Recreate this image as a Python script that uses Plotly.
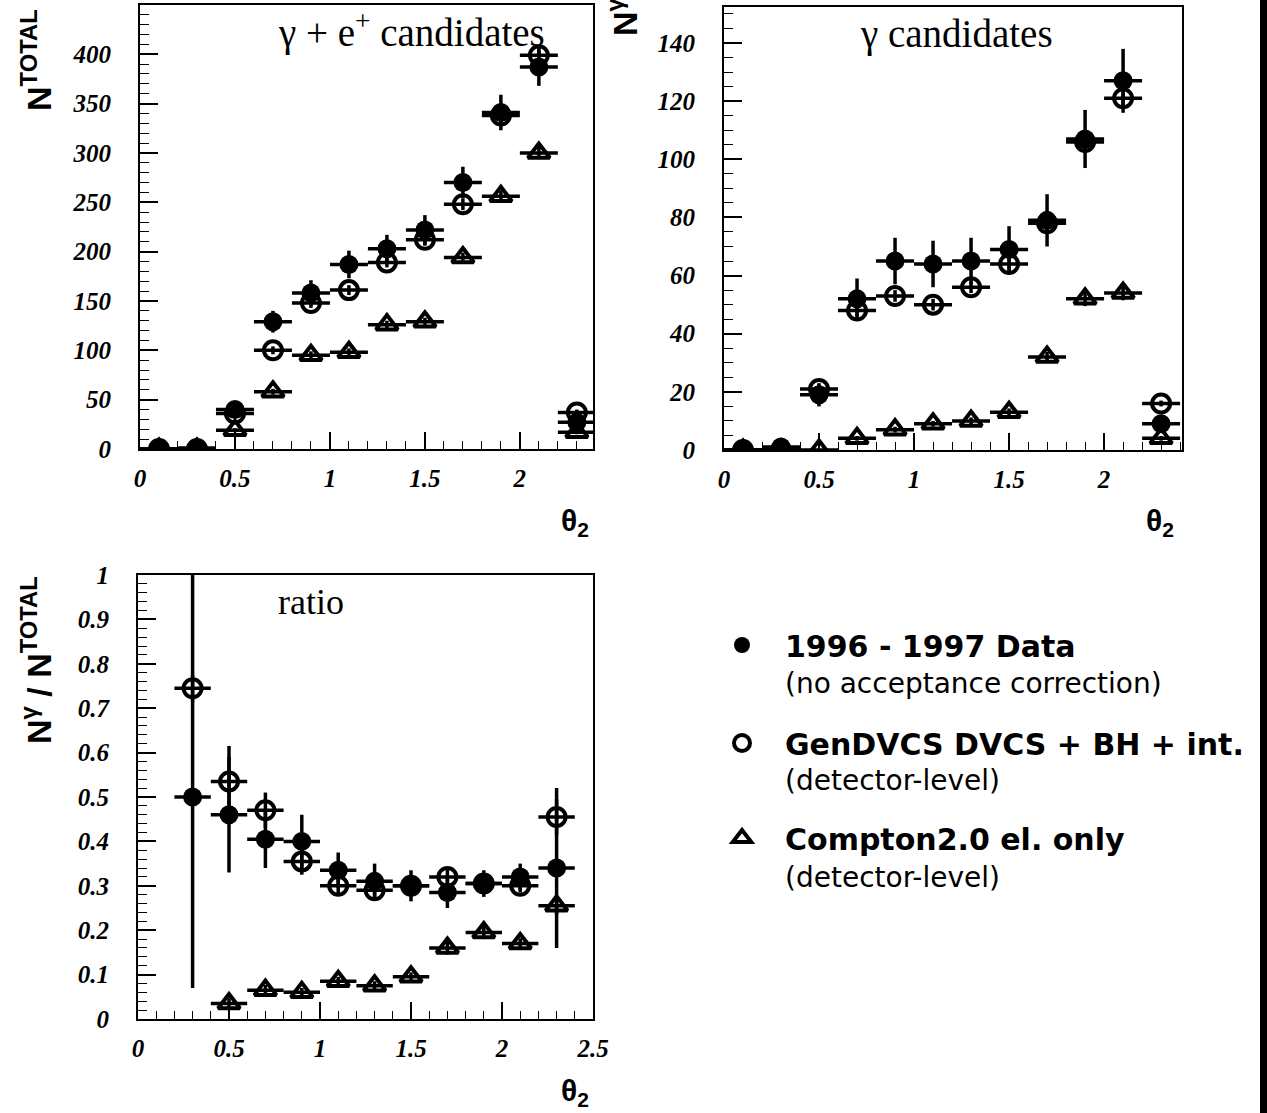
import plotly.graph_objects as go

W, H = 1267, 1113

# ---------------- data ----------------
theta_bins = [0.1, 0.3, 0.5, 0.7, 0.9, 1.1, 1.3, 1.5, 1.7, 1.9, 2.1, 2.3]
half_bin = [0.1] * 12

# N^TOTAL  (gamma + e+ candidates)
data_tot = [0, 1, 40, 129, 158, 187, 203, 222, 270, 341, 387, 27]
data_tot_err = [0, 1, 6, 11, 13, 14, 14, 15, 16, 18, 19, 5]
gen_tot = [0, 0, 36, 100, 148, 161, 189, 212, 248, 338, 399, 37]
gen_tot_err = [0, 0, 3, 4, 5, 5, 5, 6, 6, 7, 8, 3]
comp_tot = [0, 0, 19, 58, 95, 98, 126, 129, 194, 256, 300, 17]
comp_tot_err = [0, 0, 2, 3, 4, 4, 4, 4, 5, 6, 6, 2]

# N^gamma  (gamma candidates)
data_g = [0, 1, 19, 52, 65, 64, 65, 69, 79, 107, 127, 9]
data_g_err = [0, 1, 4, 7, 8, 8, 8, 8, 9, 10, 11, 3]
gen_g = [0, 0, 21, 48, 53, 50, 56, 64, 78, 106, 121, 16]
gen_g_err = [0, 0, 1.5, 2, 2, 2, 2, 2.5, 3, 3, 3.5, 1]
comp_g = [0, 0, 0, 4, 7, 9, 10, 13, 32, 52, 54, 4]
comp_g_err = [0, 0, 0, 0.8, 1, 1, 1.2, 1.3, 1.8, 2.5, 2.5, 0.8]

# ratio N^gamma / N^TOTAL
ratio_bins = [0.3, 0.5, 0.7, 0.9, 1.1, 1.3, 1.5, 1.7, 1.9, 2.1, 2.3]
ratio_half = [0.1] * 11
data_r = [0.50, 0.46, 0.405, 0.40, 0.335, 0.31, 0.30, 0.285, 0.305, 0.32, 0.34]
data_r_up = [0.6, 0.13, 0.065, 0.06, 0.04, 0.04, 0.035, 0.035, 0.03, 0.03, 0.18]
data_r_dn = [0.43, 0.13, 0.065, 0.06, 0.04, 0.04, 0.035, 0.035, 0.03, 0.03, 0.18]
gen_r = [0.745, 0.535, 0.47, 0.355, 0.30, 0.29, 0.30, 0.32, 0.305, 0.30, 0.455]
gen_r_err = [0.03, 0.08, 0.04, 0.03, 0.02, 0.02, 0.02, 0.02, 0.015, 0.015, 0.04]
comp_r = [None, 0.035, 0.065, 0.06, 0.085, 0.075, 0.095, 0.16, 0.195, 0.17, 0.255]
comp_r_err = [0, 0.012, 0.012, 0.01, 0.01, 0.01, 0.01, 0.015, 0.015, 0.012, 0.02]

legend_names = ["<b>1996 - 1997 Data</b>",
                "<b>GenDVCS DVCS + BH + int.</b>",
                "<b>Compton2.0 el. only</b>"]
legend_sub = ["(no acceptance correction)", "(detector-level)", "(detector-level)"]

# ---------------- styles ----------------
SANS = "DejaVu Sans, Liberation Sans, Arial, sans-serif"
SANS2 = "Liberation Sans, Arial, sans-serif"
SERIF = "Liberation Serif, Times New Roman, serif"
EB = 3.5

fig = go.Figure()


def err(arr, minus=None):
    d = dict(type="data", array=arr, color="black", thickness=EB, width=0, visible=True)
    if minus is not None:
        d["symmetric"] = False
        d["arrayminus"] = minus
    return d


def add_series(x, xerr, y, yerr, kind, xa, ya, show, yerr_minus=None):
    if kind == 0:
        marker = dict(symbol="circle", size=19, color="black")
        name, lg = legend_names[0], "legend"
    elif kind == 1:
        marker = dict(symbol="circle-open", size=18, color="black", line=dict(width=4, color="black"))
        name, lg = legend_names[1], "legend2"
    else:
        marker = dict(symbol="triangle-up-open", size=19, color="black", line=dict(width=4, color="black"))
        name, lg = legend_names[2], "legend3"
    fig.add_trace(go.Scatter(
        x=x, y=y, mode="markers", marker=marker, name=name,
        error_x=err(xerr), error_y=err(yerr, yerr_minus),
        xaxis=xa, yaxis=ya, showlegend=show, legend=lg))


# top-left
add_series(theta_bins, half_bin, comp_tot, comp_tot_err, 2, "x", "y", True)
add_series(theta_bins, half_bin, gen_tot, gen_tot_err, 1, "x", "y", True)
add_series(theta_bins, half_bin, data_tot, data_tot_err, 0, "x", "y", True)
# top-right
add_series(theta_bins, half_bin, comp_g, comp_g_err, 2, "x2", "y2", False)
add_series(theta_bins, half_bin, gen_g, gen_g_err, 1, "x2", "y2", False)
add_series(theta_bins, half_bin, data_g, data_g_err, 0, "x2", "y2", False)
# bottom
add_series(ratio_bins, ratio_half, comp_r, comp_r_err, 2, "x3", "y3", False)
add_series(ratio_bins, ratio_half, gen_r, gen_r_err, 1, "x3", "y3", False)
add_series(ratio_bins, ratio_half, data_r, data_r_up, 0, "x3", "y3", False, yerr_minus=data_r_dn)

tickfont = dict(family=SERIF, size=25, color="black", weight="bold", style="italic")


def xaxis(domain, rng, anchor):
    return dict(domain=domain, range=rng, anchor=anchor, showgrid=False, zeroline=False,
                showline=True, linecolor="black", linewidth=2, mirror=True, automargin=False,
                ticks="inside", ticklen=17, tickwidth=1.5, tickcolor="black",
                tick0=0, dtick=0.5, tickfont=tickfont, ticklabelstandoff=6,
                minor=dict(ticks="inside", ticklen=8, tickwidth=1.2, tickcolor="black", dtick=0.1, showgrid=False))


def yaxis(domain, rng, anchor, dt, mdt):
    return dict(domain=domain, range=rng, anchor=anchor, showgrid=False, zeroline=False,
                showline=True, linecolor="black", linewidth=2, mirror=True, automargin=False,
                ticks="inside", ticklen=18, tickwidth=1.5, tickcolor="black",
                tick0=0, dtick=dt, tickfont=tickfont, ticklabelstandoff=22,
                minor=dict(ticks="inside", ticklen=9, tickwidth=1.2, tickcolor="black", dtick=mdt, showgrid=False))


def px(xp):
    return xp / W


def py(yp):
    return 1 - yp / H


layout = dict(
    width=W, height=H, margin=dict(l=0, r=0, t=0, b=0, pad=0, autoexpand=False),
    paper_bgcolor="white", plot_bgcolor="white",
    xaxis=xaxis([px(140), px(593)], [0, 2.385], "y"),
    yaxis=yaxis([py(449), py(5)], [0, 449.9], "x", 50, 10),
    xaxis2=xaxis([px(724), px(1182)], [0, 2.41], "y2"),
    yaxis2=yaxis([py(450), py(7)], [0, 152.4], "x2", 20, 5),
    xaxis3=xaxis([px(138), px(593)], [0, 2.5], "y3"),
    yaxis3=yaxis([py(1019), py(575)], [0, 1], "x3", 0.1, 0.02),
)

leg_common = dict(font=dict(family=SANS, size=30, color="black", weight="bold"), bgcolor="rgba(0,0,0,0)",
                  borderwidth=0, xanchor="left", yanchor="middle", itemwidth=76, valign="middle")
layout["legend"] = dict(leg_common, x=px(699), y=py(645))
layout["legend2"] = dict(leg_common, x=px(699), y=py(743))
layout["legend3"] = dict(leg_common, x=px(699), y=py(838))

fig.update_layout(**layout)

ann = []
# panel labels
ann.append(dict(text="γ + e<sup>+</sup> candidates", x=px(276), y=py(30), xanchor="left", yanchor="middle",
                font=dict(family=SERIF, size=39, color="black")))
ann.append(dict(text="γ candidates", x=px(858), y=py(34), xanchor="left", yanchor="middle",
                font=dict(family=SERIF, size=39, color="black")))
ann.append(dict(text="ratio", x=px(276), y=py(602), xanchor="left", yanchor="middle",
                font=dict(family=SERIF, size=36, color="black")))
# axis titles
for xc, yc in [(575, 522), (1160, 522), (575, 1092)]:
    ann.append(dict(text="<b>θ<sub>2</sub></b>", x=px(xc), y=py(yc), xanchor="center", yanchor="middle",
                    font=dict(family=SANS2, size=30, color="black")))
ann.append(dict(text="<b>N<sup>TOTAL</sup></b>", x=px(36), y=py(60), xanchor="center", yanchor="middle",
                textangle=-90, font=dict(family=SANS2, size=34, color="black")))
ann.append(dict(text="<b>N<sup>γ</sup></b>", x=px(622), y=py(17), xanchor="center", yanchor="middle",
                textangle=-90, font=dict(family=SANS2, size=34, color="black")))
ann.append(dict(text="<b>N<sup>γ</sup> / N<sup>TOTAL</sup></b>", x=px(36), y=py(660), xanchor="center",
                yanchor="middle", textangle=-90, font=dict(family=SANS2, size=34, color="black")))
# legend second lines
for txt, yc in zip(legend_sub, [683, 780, 877]):
    ann.append(dict(text=txt, x=px(783), y=py(yc), xanchor="left", yanchor="middle",
                    font=dict(family=SANS, size=28, color="black")))
for a in ann:
    a.update(xref="paper", yref="paper", showarrow=False)
fig.update_layout(annotations=ann)

# scan border on the right edge
fig.add_shape(type="rect", xref="paper", yref="paper", x0=px(1260), x1=1, y0=0, y1=1,
              fillcolor="black", line=dict(width=0), layer="above")

fig.write_html(
    "out.html",
    post_script="document.body.style.margin='0';"
                "document.body.style.overflow='hidden';"
                "document.documentElement.style.overflow='hidden';",
)
